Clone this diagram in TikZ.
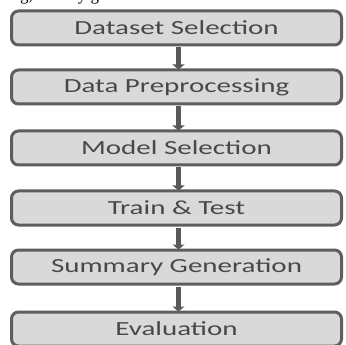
\documentclass[tikz,border=0pt]{standalone}
\usepackage{fontspec}
\setmainfont{Carlito}
\newfontfamily\seriffont{Liberation Serif}
\usetikzlibrary{arrows.meta}
\definecolor{boxfill}{HTML}{D9D9D9}
\definecolor{boxline}{HTML}{5E5E5E}
\definecolor{txt}{HTML}{484848}
\definecolor{arr}{HTML}{595959}
\newcommand{\wtext}[1]{\scalebox{1.45}[1]{#1}}
\tikzset{
  stepbox/.style={draw=boxline, line width=3pt, fill=boxfill, rounded corners=7pt,
    minimum width=330pt, minimum height=34pt, inner sep=0pt, text=txt,
    font=\fontsize{20}{20}\selectfont},
  flow/.style={draw=arr, line width=5.5pt, -{Triangle[width=12pt,length=5pt]}, shorten <=1pt, shorten >=-1pt}
}
\begin{document}
\begin{tikzpicture}[x=1pt,y=-1pt]
\useasboundingbox (0,0) rectangle (346,345);
\clip (0,0) rectangle (346,345);
\node[anchor=base west, inner sep=0pt, font=\seriffont\fontsize{17}{17}\selectfont] (frag) at (20,0.8) {g,\hspace{45pt}y g};
\node[stepbox] (s1) at (176.5,28) {\wtext{Dataset Selection}};
\node[stepbox] (s2) at (176.5,87) {\wtext{Data Preprocessing}};
\node[stepbox] (s3) at (176.5,148) {\wtext{Model Selection}};
\node[stepbox] (s4) at (176.5,208) {\wtext{Train \& Test}};
\node[stepbox] (s5) at (176.5,267) {\wtext{Summary Generation}};
\node[stepbox] (s6) at (176.5,329) {\wtext{Evaluation}};
\foreach \a/\b in {s1/s2,s2/s3,s3/s4,s4/s5,s5/s6}
  \draw[flow] ([xshift=2pt]\a.south) -- ([xshift=2pt]\b.north);
\end{tikzpicture}
\end{document}
